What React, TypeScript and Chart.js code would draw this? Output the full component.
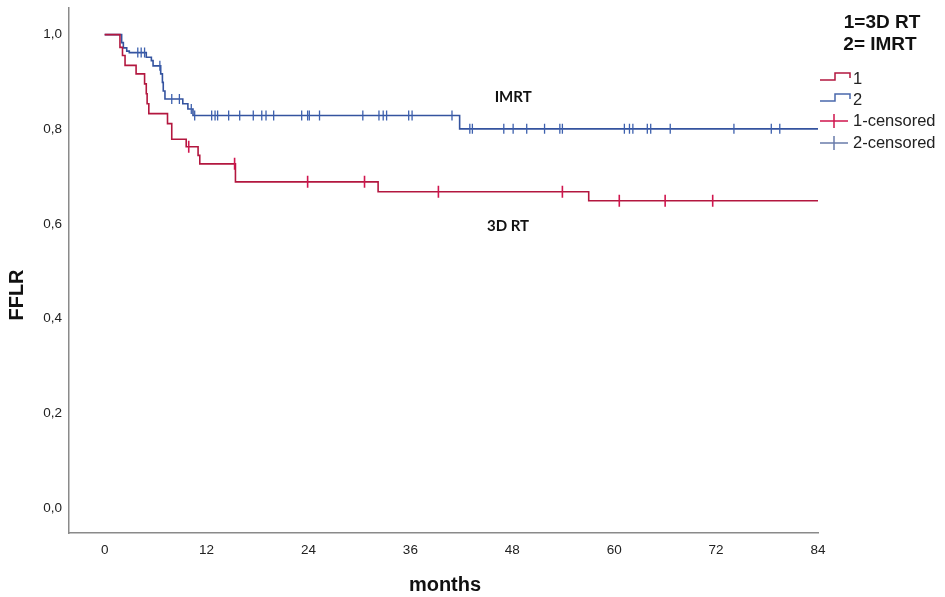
import React, { useEffect, useRef } from 'react';
import { Chart, registerables } from 'chart.js';

Chart.register(...registerables);

// tick labels
const xTicks = [0, 12, 24, 36, 48, 60, 72, 84];
const yTicks = [0, 0.2, 0.4, 0.6, 0.8, 1.0];

// group 1 = 3D RT : event times (months) and survival after each step
const rtTimes = [0, 1.8, 2.1, 2.4, 3.7, 4.7, 4.9, 5.0, 5.2, 7.4, 7.9, 9.6, 11.0, 11.2, 15.4, 32.2, 57.0, 84];
const rtSurv = [1.0, 0.973, 0.956, 0.935, 0.917, 0.896, 0.875, 0.854, 0.833, 0.812, 0.779, 0.763, 0.745, 0.727, 0.689, 0.668, 0.649, 0.649];
const rtCensored = [9.9, 15.3, 23.9, 30.6, 39.3, 53.9, 60.6, 66.0, 71.6];

// group 2 = IMRT
const imTimes = [0, 2.0, 2.2, 2.6, 2.9, 4.9, 5.5, 5.7, 6.6, 6.8, 6.9, 7.1, 9.2, 9.8, 10.4, 41.8, 84];
const imSurv = [1.0, 0.983, 0.972, 0.965, 0.962, 0.952, 0.945, 0.934, 0.917, 0.899, 0.881, 0.864, 0.854, 0.843, 0.829, 0.801, 0.801];
const imCensored = [
  3.9, 4.3, 4.7, 6.5, 7.9, 8.8, 10.2, 10.6, 12.6, 13.0, 13.3, 14.6, 15.9, 17.5, 18.5, 19.0, 19.9,
  23.2, 23.9, 24.1, 25.3, 30.4, 32.3, 32.8, 33.2, 35.8, 36.2, 40.9, 43.0, 43.3, 47.0, 48.1, 49.7,
  51.8, 53.6, 53.9, 61.2, 61.8, 62.2, 63.9, 64.3, 66.6, 74.1, 78.5, 79.5,
];

const RED = '#b3173f';
const RED_MARK = '#d0164e';
const BLUE = '#34539f';
const BLUE_MARK = '#3d60ae';

const stepValue = (times: number[], surv: number[], t: number) => {
  let v = surv[0];
  for (let i = 0; i < times.length; i++) if (times[i] <= t) v = surv[i];
  return v;
};

const overlay = {
  id: 'overlay',
  afterDraw(chart: any) {
    const ctx = chart.ctx as CanvasRenderingContext2D;
    const xs = chart.scales.x;
    const ys = chart.scales.y;
    ctx.save();
    ctx.fillStyle = '#111';
    ctx.textAlign = 'center';
    ctx.textBaseline = 'middle';

    // curve labels
    ctx.font = 'bold 15px Lato';
    ctx.fillText('IMRT', xs.getPixelForValue(48.1), ys.getPixelForValue(0.868));
    ctx.fillText('3D RT', xs.getPixelForValue(47.5), ys.getPixelForValue(0.595));

    // axis titles
    ctx.font = 'bold 20px "Liberation Sans"';
    ctx.fillText('months', 445, 585);
    ctx.save();
    ctx.translate(17, 295);
    ctx.rotate(-Math.PI / 2);
    ctx.fillText('FFLR', 0, 0);
    ctx.restore();

    // legend title
    ctx.font = 'bold 19px "Liberation Sans"';
    ctx.fillText('1=3D RT', 882, 23);
    ctx.fillText('2= IMRT', 880, 45);

    // legend items
    ctx.font = '16.5px "Liberation Sans"';
    ctx.textAlign = 'left';
    ctx.fillStyle = '#222';
    ctx.lineWidth = 1.5;
    const items = [
      { text: '1', y: 79, color: RED, step: true },
      { text: '2', y: 100, color: '#4a68ac', step: true },
      { text: '1-censored', y: 121, color: RED_MARK, step: false },
      { text: '2-censored', y: 143, color: '#6a7caa', step: false },
    ];
    items.forEach((it) => {
      ctx.strokeStyle = it.color;
      ctx.beginPath();
      if (it.step) {
        ctx.moveTo(820, it.y + 1);
        ctx.lineTo(835, it.y + 1);
        ctx.lineTo(835, it.y - 6);
        ctx.lineTo(850, it.y - 6);
        ctx.lineTo(850, it.y - 1);
      } else {
        ctx.moveTo(820, it.y);
        ctx.lineTo(848, it.y);
        ctx.moveTo(834, it.y - 7);
        ctx.lineTo(834, it.y + 7);
      }
      ctx.stroke();
      ctx.fillText(it.text, 853, it.y);
    });
    ctx.restore();
  },
};

const App: React.FC = () => {
  const canvasRef = useRef<HTMLCanvasElement | null>(null);
  const chartRef = useRef<Chart | null>(null);

  useEffect(() => {
    if (!canvasRef.current) return;
    const ctx = canvasRef.current.getContext('2d');
    if (!ctx) return;
    if (chartRef.current) chartRef.current.destroy();

    const tickFont = { family: '"Liberation Sans", Arial, sans-serif', size: 13.5 };

    chartRef.current = new Chart(ctx, {
      type: 'line',
      data: {
        datasets: [
          {
            label: '1-censored',
            data: rtCensored.map((t) => ({ x: t, y: stepValue(rtTimes, rtSurv, t) })),
            showLine: false,
            pointStyle: 'line',
            rotation: 90,
            pointRadius: 6,
            pointBorderColor: RED_MARK,
            pointBorderWidth: 1.6,
          } as any,
          {
            label: '2-censored',
            data: imCensored.map((t) => ({ x: t, y: stepValue(imTimes, imSurv, t) })),
            showLine: false,
            pointStyle: 'line',
            rotation: 90,
            pointRadius: 5,
            pointBorderColor: BLUE_MARK,
            pointBorderWidth: 1.3,
          } as any,
          {
            label: '1',
            data: rtTimes.map((t, i) => ({ x: t, y: rtSurv[i] })),
            stepped: true,
            borderColor: RED,
            borderWidth: 1.6,
            pointRadius: 0,
          },
          {
            label: '2',
            data: imTimes.map((t, i) => ({ x: t, y: imSurv[i] })),
            stepped: true,
            borderColor: BLUE,
            borderWidth: 1.6,
            pointRadius: 0,
          },
        ],
      },
      options: {
        animation: false,
        responsive: false,
        layout: { padding: { top: 5, right: 127, left: 0, bottom: 0 } },
        plugins: { legend: { display: false }, tooltip: { enabled: false } },
        scales: {
          x: {
            type: 'linear',
            min: -4.2,
            max: 84,
            afterBuildTicks: (s: any) => {
              s.ticks = xTicks.map((v) => ({ value: v }));
            },
            afterFit: (s: any) => {
              s.height = 64;
              s.paddingLeft = 0;
              s.paddingRight = 0;
            },
            ticks: { font: tickFont, color: '#222', padding: 9, maxRotation: 0, callback: (v: any) => String(v) },
            grid: { display: false, drawTicks: false },
            border: { color: '#8a8a8a', width: 1.5 },
          },
          y: {
            type: 'linear',
            min: -0.0525,
            max: 1.057,
            afterBuildTicks: (s: any) => {
              s.ticks = yTicks.map((v) => ({ value: v }));
            },
            afterFit: (s: any) => {
              s.width = 69;
              s.paddingTop = 0;
              s.paddingBottom = 0;
            },
            ticks: {
              font: tickFont,
              color: '#222',
              padding: 7,
              callback: (v: any) => Number(v).toFixed(1).replace('.', ','),
            },
            grid: { display: false, drawTicks: false },
            border: { color: '#8a8a8a', width: 1.5 },
          },
        },
      },
      plugins: [overlay],
    });

    return () => {
      if (chartRef.current) {
        chartRef.current.destroy();
        chartRef.current = null;
      }
    };
  }, []);

  return (
    <div style={{ position: 'absolute', left: 0, top: 0, width: 945, height: 597, background: '#fff' }}>
      <canvas ref={canvasRef} width={945} height={597} style={{ display: 'block' }} />
    </div>
  );
};

export default App;
